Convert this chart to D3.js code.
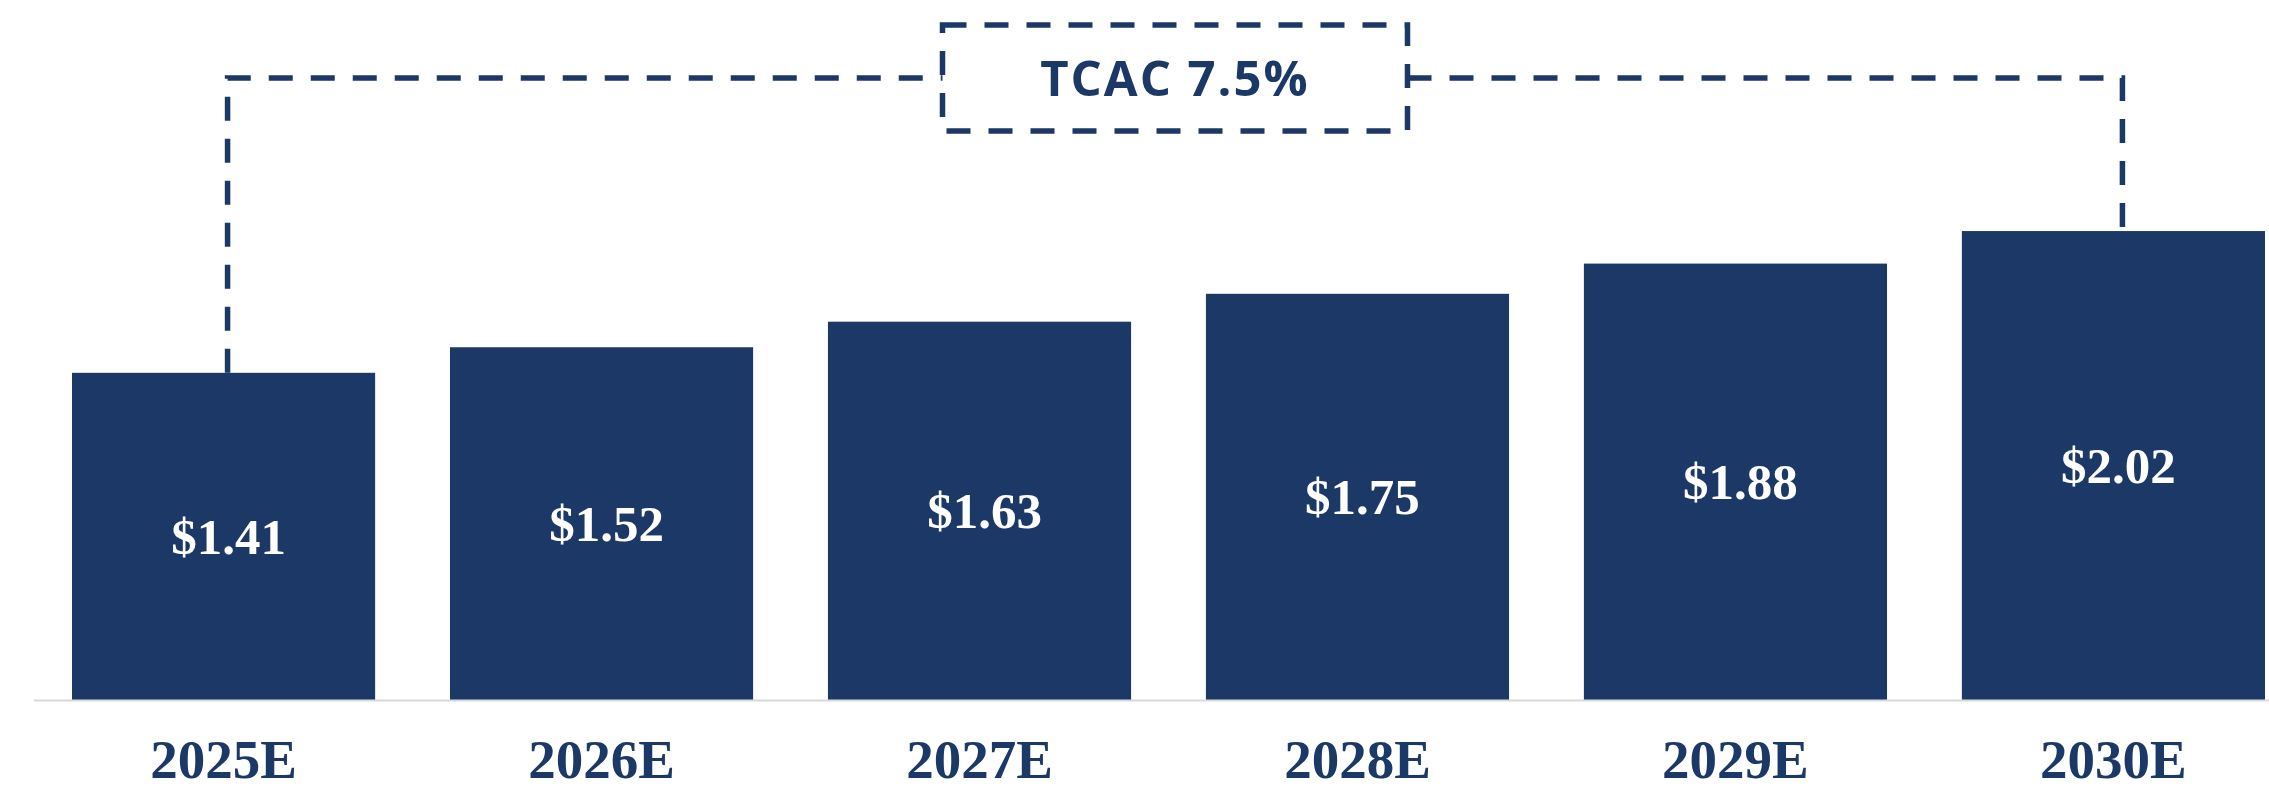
<!DOCTYPE html>
<html>
<head>
<meta charset="utf-8">
<script src="https://cdn.jsdelivr.net/npm/d3@7"></script>
<style>
  html, body { margin: 0; padding: 0; background: #fff; }
  #chart { width: 2269px; height: 790px; }
</style>
</head>
<body>
<div id="chart"></div>
<script>
// data
var years = ["2025E", "2026E", "2027E", "2028E", "2029E", "2030E"];
var values = [1.41, 1.52, 1.63, 1.75, 1.88, 2.02];
var valueLabels = ["$1.41", "$1.52", "$1.63", "$1.75", "$1.88", "$2.02"];
var cagrLabel = "TCAC 7.5%";

var W = 2269, H = 790;
var navy = "#1b3866";
var baseY = 700.5;

var svg = d3.select("#chart").append("svg")
  .attr("width", W)
  .attr("height", H);

var x = d3.scaleBand()
  .domain(years)
  .range([72, 2265])
  .paddingInner(0.198)
  .paddingOuter(0);

var y = d3.scaleLinear()
  .domain([0, 1])
  .range([baseY, baseY - 232.4]);

// bars
svg.selectAll(".bar")
  .data(values)
  .enter().append("rect")
  .attr("class", "bar")
  .attr("x", function(d, i) { return x(years[i]); })
  .attr("width", x.bandwidth())
  .attr("y", function(d) { return y(d); })
  .attr("height", function(d) { return y(0) - y(d); })
  .attr("fill", navy);

// value labels inside bars
svg.selectAll(".val")
  .data(values)
  .enter().append("text")
  .attr("class", "val")
  .attr("x", function(d, i) { return x(years[i]) + x.bandwidth() / 2 + 5; })
  .attr("y", function(d) { return (y(d) + y(0)) / 2 + 17; })
  .attr("text-anchor", "middle")
  .attr("fill", "#fff")
  .style("font-family", "'Liberation Serif', 'DejaVu Serif', serif")
  .style("font-weight", "bold")
  .style("font-size", "51px")
  .text(function(d, i) { return valueLabels[i]; });

// baseline
svg.append("line")
  .attr("x1", 34).attr("x2", W)
  .attr("y1", baseY).attr("y2", baseY)
  .attr("stroke", "#d9d9d9")
  .attr("stroke-width", 2);

// category axis
var xAxis = svg.append("g")
  .attr("transform", "translate(0," + baseY + ")")
  .call(d3.axisBottom(x).tickSize(0).tickPadding(77));
xAxis.select(".domain").remove();
xAxis.selectAll("text")
  .attr("fill", navy)
  .style("font-family", "'Liberation Serif', 'DejaVu Serif', serif")
  .style("font-weight", "bold")
  .style("font-size", "55px")
  .attr("dy", 0);

// growth bracket
var first = years[0], last = years[years.length - 1];
var xL = x(first) + x.bandwidth() / 2 + 4;
var xR = x(last) + x.bandwidth() / 2 + 9;
var lineY = 78;
var boxW = 465, boxH = 106;
var boxCx = (xL + xR) / 2;
var boxX0 = boxCx - boxW / 2, boxX1 = boxCx + boxW / 2;
var dash = "24,18";

var bracket = svg.append("g")
  .attr("fill", "none")
  .attr("stroke", navy)
  .attr("stroke-width", 5.5)
  .attr("stroke-dasharray", dash);

bracket.append("path")
  .attr("d", d3.line()([[xL, y(values[0])], [xL, lineY], [boxX0, lineY]]));
bracket.append("path")
  .attr("d", d3.line()([[boxX1, lineY], [xR, lineY], [xR, y(values[values.length - 1])]]));
bracket.append("rect")
  .attr("x", boxX0)
  .attr("y", lineY - boxH / 2)
  .attr("width", boxW)
  .attr("height", boxH);

svg.append("text")
  .attr("x", boxCx)
  .attr("y", lineY + 18)
  .attr("text-anchor", "middle")
  .attr("fill", navy)
  .style("font-family", "'Open Sans', 'DejaVu Sans', sans-serif")
  .style("font-weight", "bold")
  .style("font-size", "49px")
  .style("letter-spacing", "2px")
  .text(cagrLabel);
</script>
</body>
</html>
